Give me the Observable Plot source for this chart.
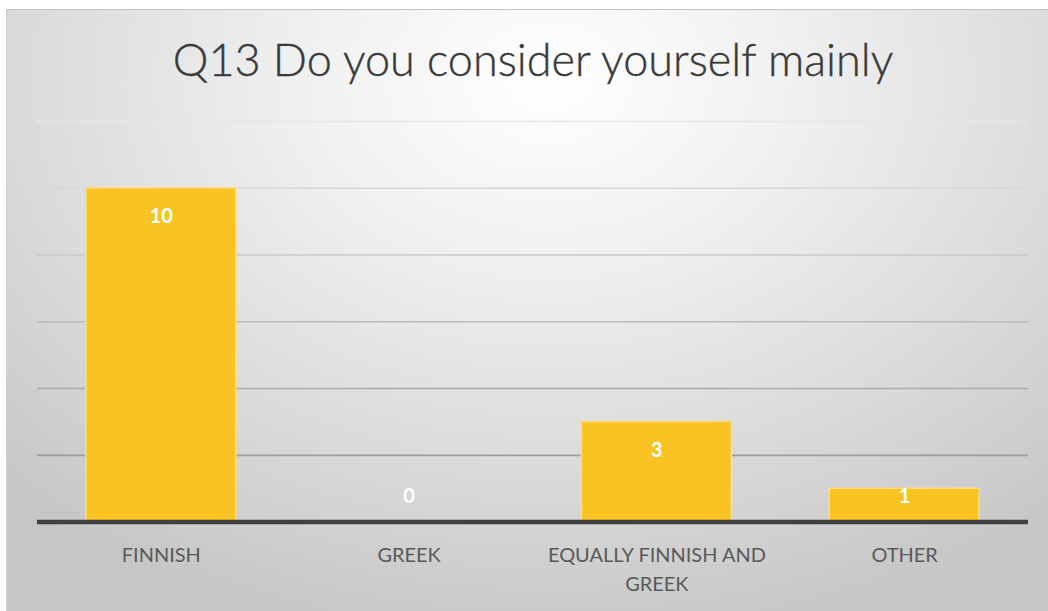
<!DOCTYPE html>
<html>
<head>
<meta charset="utf-8">
<script src="https://cdn.jsdelivr.net/npm/d3@7"></script>
<script src="https://cdn.jsdelivr.net/npm/@observablehq/plot@0.6"></script>
<style>
  html, body { margin: 0; padding: 0; background: #ffffff; width: 1048px; height: 611px; overflow: hidden; }
  #card {
    position: absolute; left: 6px; top: 9px; width: 1042px; height: 602px;
    background: radial-gradient(ellipse 75% 95% at 52% 12%, #ffffff 0%, #f1f1f1 30%, #dcdcdc 65%, #c6c6c6 100%);
    border-top: 1px solid #c4c4c4; border-left: 1px solid #cfcfcf; box-sizing: border-box;
  }
  #title {
    position: absolute; left: 0; top: 22px; width: 1052px; text-align: center;
    font-family: Lato, "Open Sans", sans-serif; font-weight: 300; font-size: 45px; color: #3a3a3a;
    -webkit-text-stroke: 0.4px #3a3a3a;
  }
  #plot { position: absolute; left: 0; top: 99px; }
</style>
</head>
<body>
<div id="card">
  <div id="title">Q13 Do you consider yourself mainly</div>
  <div id="plot"></div>
</div>
<script>
const categories = ["FINNISH", "GREEK", "EQUALLY FINNISH AND GREEK", "OTHER"];
const values = [10, 0, 3, 1];
const gridTicks = [2, 4, 6, 8, 10, 12];
const wrapped = {"EQUALLY FINNISH AND GREEK": "EQUALLY FINNISH AND\nGREEK"};

const data = categories.map((c, i) => ({category: c, value: values[i]}));
const gridShade = d3.interpolateRgb("#e6e6e6", "#8e8e8e");

const chart = Plot.plot({
  width: 1042,
  height: 500,
  marginLeft: 30,
  marginRight: 20,
  marginTop: 12,
  marginBottom: 87,
  style: {background: "transparent", overflow: "visible"},
  x: {domain: categories, paddingInner: 0.395, paddingOuter: 0.1975, label: null},
  y: {domain: [0, 12], axis: null},
  marks: [
    Plot.ruleY(gridTicks, {stroke: d => gridShade(1 - d / 12), strokeWidth: 1.6}),
    Plot.barY(data, {x: "category", y: "value", fill: "#F8C323", stroke: "#FCDC85", strokeWidth: 1.5}),
    Plot.ruleY([0], {stroke: "#404040", strokeWidth: 4.5}),
    Plot.text(data, {
      x: "category",
      y: d => Math.max(d.value - 0.85, 0.75),
      text: d => String(d.value),
      fill: "#ffffff",
      fontWeight: "bold",
      fontSize: 20,
      fontFamily: "Lato, 'Open Sans', sans-serif"
    }),
    Plot.axisX({
      tickSize: 0,
      tickPadding: 19,
      fontSize: 20,
      fontFamily: "Lato, 'Open Sans', sans-serif",
      fill: "#595959",
      lineHeight: 1.45,
      tickFormat: d => wrapped[d] || d,
      label: null
    })
  ]
});
document.getElementById("plot").appendChild(chart);
</script>
</body>
</html>
